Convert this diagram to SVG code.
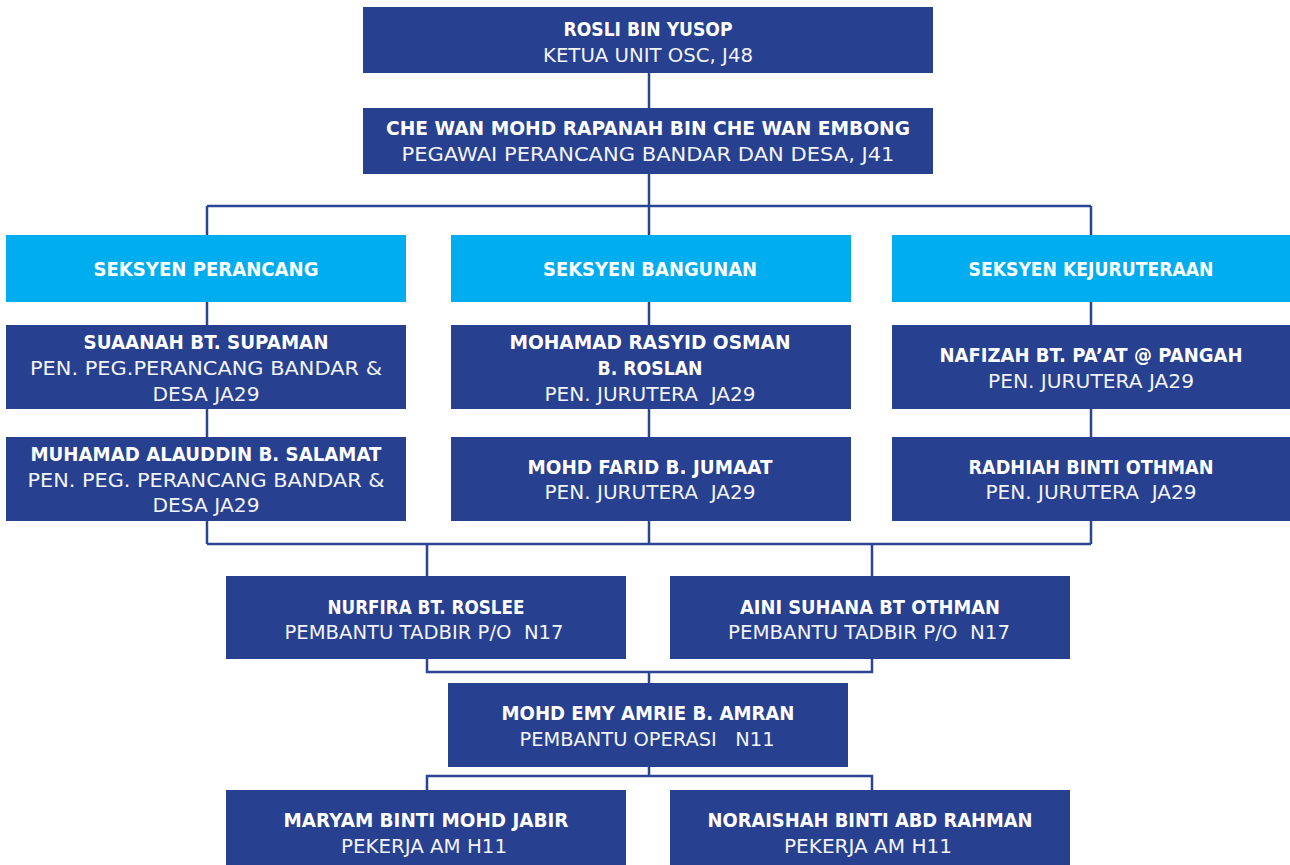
<svg xmlns="http://www.w3.org/2000/svg" width="1290" height="865" viewBox="0 0 1290 865">
<style>
.box{fill:#27408F}
.hdr{fill:#00AEEF}
.n{font-family:"DejaVu Sans","Liberation Sans",sans-serif;font-weight:bold;font-size:20px;fill:#FFFFFF;text-anchor:middle;white-space:pre}
.t{font-family:"DejaVu Sans","Liberation Sans",sans-serif;font-weight:normal;font-size:20px;fill:#F2F4FA;text-anchor:middle;white-space:pre}
.c{fill:none;stroke:#2B4593;stroke-width:2.5}
</style>
<rect width="1290" height="865" fill="#FFFFFF"/>
<g id="connectors">
<path class="c" d="M649 73V544"/>
<path class="c" d="M207 206H1091"/>
<path class="c" d="M207 206V544"/>
<path class="c" d="M1091 206V544"/>
<path class="c" d="M207 544H1091"/>
<path class="c" d="M427 544V576M872 544V576"/>
<path class="c" d="M427 659V672H872V659M649 672V683"/>
<path class="c" d="M649 767V776M427 790V776H872V790"/>
</g>
<g id="rosli">
<rect class="box" x="363" y="7" width="570" height="66"/>
<text class="n" x="648" y="36" textLength="169" lengthAdjust="spacingAndGlyphs">ROSLI BIN YUSOP</text>
<text class="t" x="648" y="62" textLength="210" lengthAdjust="spacingAndGlyphs">KETUA UNIT OSC, J48</text>
</g>
<g id="chewan">
<rect class="box" x="363" y="108" width="570" height="66"/>
<text class="n" x="648" y="135" textLength="524" lengthAdjust="spacingAndGlyphs">CHE WAN MOHD RAPANAH BIN CHE WAN EMBONG</text>
<text class="t" x="648" y="161" textLength="493" lengthAdjust="spacingAndGlyphs">PEGAWAI PERANCANG BANDAR DAN DESA, J41</text>
</g>
<g id="seksyen-perancang">
<rect class="hdr" x="6" y="235" width="400" height="67"/>
<text class="n" x="206" y="276" textLength="225" lengthAdjust="spacingAndGlyphs">SEKSYEN PERANCANG</text>
</g>
<g id="seksyen-bangunan">
<rect class="hdr" x="451" y="235" width="400" height="67"/>
<text class="n" x="650" y="276" textLength="214" lengthAdjust="spacingAndGlyphs">SEKSYEN BANGUNAN</text>
</g>
<g id="seksyen-kejuruteraan">
<rect class="hdr" x="892" y="235" width="400" height="67"/>
<text class="n" x="1091" y="276" textLength="245" lengthAdjust="spacingAndGlyphs">SEKSYEN KEJURUTERAAN</text>
</g>
<g id="suaanah">
<rect class="box" x="6" y="325" width="400" height="84"/>
<text class="n" x="206" y="349" textLength="245" lengthAdjust="spacingAndGlyphs">SUAANAH BT. SUPAMAN</text>
<text class="t" x="206" y="375" textLength="352" lengthAdjust="spacingAndGlyphs">PEN. PEG.PERANCANG BANDAR &amp;</text>
<text class="t" x="206" y="401" textLength="107" lengthAdjust="spacingAndGlyphs">DESA JA29</text>
</g>
<g id="muhamad">
<rect class="box" x="6" y="437" width="400" height="84"/>
<text class="n" x="206" y="461" textLength="351" lengthAdjust="spacingAndGlyphs">MUHAMAD ALAUDDIN B. SALAMAT</text>
<text class="t" x="206" y="487" textLength="357" lengthAdjust="spacingAndGlyphs">PEN. PEG. PERANCANG BANDAR &amp;</text>
<text class="t" x="206" y="512" textLength="107" lengthAdjust="spacingAndGlyphs">DESA JA29</text>
</g>
<g id="rasyid">
<rect class="box" x="451" y="325" width="400" height="84"/>
<text class="n" x="650" y="349" textLength="281" lengthAdjust="spacingAndGlyphs">MOHAMAD RASYID OSMAN</text>
<text class="n" x="650" y="375" textLength="105" lengthAdjust="spacingAndGlyphs">B. ROSLAN</text>
<text class="t" x="650" y="401" textLength="211" lengthAdjust="spacingAndGlyphs">PEN. JURUTERA  JA29</text>
</g>
<g id="farid">
<rect class="box" x="451" y="437" width="400" height="84"/>
<text class="n" x="650" y="474" textLength="245" lengthAdjust="spacingAndGlyphs">MOHD FARID B. JUMAAT</text>
<text class="t" x="650" y="499" textLength="211" lengthAdjust="spacingAndGlyphs">PEN. JURUTERA  JA29</text>
</g>
<g id="nafizah">
<rect class="box" x="892" y="325" width="400" height="84"/>
<text class="n" x="1091" y="362" textLength="303" lengthAdjust="spacingAndGlyphs">NAFIZAH BT. PA’AT @ PANGAH</text>
<text class="t" x="1091" y="388" textLength="206" lengthAdjust="spacingAndGlyphs">PEN. JURUTERA JA29</text>
</g>
<g id="radhiah">
<rect class="box" x="892" y="437" width="400" height="84"/>
<text class="n" x="1091" y="474" textLength="245" lengthAdjust="spacingAndGlyphs">RADHIAH BINTI OTHMAN</text>
<text class="t" x="1091" y="499" textLength="211" lengthAdjust="spacingAndGlyphs">PEN. JURUTERA  JA29</text>
</g>
<g id="nurfira">
<rect class="box" x="226" y="576" width="400" height="83"/>
<text class="n" x="426" y="614" textLength="197" lengthAdjust="spacingAndGlyphs">NURFIRA BT. ROSLEE</text>
<text class="t" x="424" y="639" textLength="279" lengthAdjust="spacingAndGlyphs">PEMBANTU TADBIR P/O  N17</text>
</g>
<g id="aini">
<rect class="box" x="670" y="576" width="400" height="83"/>
<text class="n" x="870" y="614" textLength="260" lengthAdjust="spacingAndGlyphs">AINI SUHANA BT OTHMAN</text>
<text class="t" x="869" y="639" textLength="282" lengthAdjust="spacingAndGlyphs">PEMBANTU TADBIR P/O  N17</text>
</g>
<g id="emy">
<rect class="box" x="448" y="683" width="400" height="84"/>
<text class="n" x="648" y="720" textLength="293" lengthAdjust="spacingAndGlyphs">MOHD EMY AMRIE B. AMRAN</text>
<text class="t" x="647" y="746" textLength="255" lengthAdjust="spacingAndGlyphs">PEMBANTU OPERASI   N11</text>
</g>
<g id="maryam">
<rect class="box" x="226" y="790" width="400" height="75"/>
<text class="n" x="426" y="827" textLength="285" lengthAdjust="spacingAndGlyphs">MARYAM BINTI MOHD JABIR</text>
<text class="t" x="424" y="853" textLength="166" lengthAdjust="spacingAndGlyphs">PEKERJA AM H11</text>
</g>
<g id="noraishah">
<rect class="box" x="670" y="790" width="400" height="75"/>
<text class="n" x="870" y="827" textLength="325" lengthAdjust="spacingAndGlyphs">NORAISHAH BINTI ABD RAHMAN</text>
<text class="t" x="868" y="853" textLength="168" lengthAdjust="spacingAndGlyphs">PEKERJA AM H11</text>
</g>
</svg>
